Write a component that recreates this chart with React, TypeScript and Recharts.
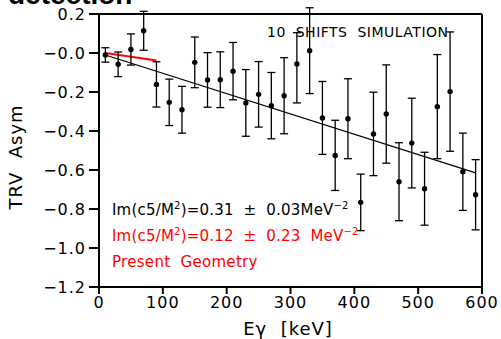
import { ComposedChart, Scatter, ErrorBar, XAxis, YAxis, ReferenceLine } from 'recharts';

const energy = [10, 30, 50, 70, 90, 110, 130, 150, 170, 190, 210, 230, 250, 270, 290, 310, 330, 350, 370, 390, 410, 430, 450, 470, 490, 510, 530, 550, 570, 590];
const asym = [-0.01, -0.058, 0.018, 0.114, -0.161, -0.253, -0.291, -0.048, -0.138, -0.137, -0.093, -0.256, -0.212, -0.27, -0.219, -0.056, 0.012, -0.333, -0.525, -0.337, -0.766, -0.415, -0.313, -0.66, -0.462, -0.696, -0.275, -0.198, -0.609, -0.727];
const asymErr: (number | [number, number])[] = [0.037, 0.063, 0.08, 0.1, 0.116, 0.119, 0.12, 0.13, 0.14, 0.143, 0.147, 0.171, 0.168, 0.17, 0.195, [0.2, 0.16], 0.22, 0.187, 0.18, 0.205, 0.145, 0.214, 0.252, 0.2, 0.23, 0.187, 0.267, 0.306, 0.198, 0.18];

// fitted line (10 shifts) and present geometry fit, as end points
const fitLine = [{ e: 10, v: -0.01 }, { e: 590, v: -0.615 }];
const presentLine = [{ e: 10, v: 0.0 }, { e: 90, v: -0.038 }];

const xTicks = [0, 100, 200, 300, 400, 500, 600];
const yTicks = [-1.2, -1.0, -0.8, -0.6, -0.4, -0.2, 0, 0.2];
const yTickLabels = ['\u22121.2', '\u22121.0', '\u22120.8', '\u22120.6', '\u22120.4', '\u22120.2', '\u22120.0', '0.2'];

const data = energy.map((e, i) => ({ e, v: asym[i], err: asymErr[i] }));

const FONT = '"DejaVu Sans", sans-serif';
const tickStyle = { fontFamily: FONT, fontSize: 16, fill: '#000', letterSpacing: 1 };

export default function App() {
  return (
    <div style={{ position: 'absolute', left: 0, top: 0, width: 501, height: 339, background: '#fff' }}>
      <ComposedChart width={501} height={339} data={data} margin={{ top: 0, right: 0, bottom: 0, left: 0 }}>
        <XAxis xAxisId="b" type="number" dataKey="e" domain={[0, 600]} ticks={xTicks} height={52}
          stroke="#000" strokeWidth={2} tickSize={7} tickMargin={3} tick={tickStyle} interval={0} />
        <XAxis xAxisId="t" type="number" dataKey="e" orientation="top" domain={[0, 600]} ticks={xTicks} height={14}
          stroke="#000" strokeWidth={2} tickSize={8} tick={false} />
        <YAxis yAxisId="l" type="number" domain={[-1.2, 0.2]} ticks={yTicks} width={99} allowDataOverflow
          stroke="#000" strokeWidth={2} tickSize={10} tickMargin={3} tick={tickStyle} interval={0}
          tickFormatter={(v: number) => yTickLabels[yTicks.findIndex(t => Math.abs(t - v) < 1e-6)]} />
        <YAxis yAxisId="r" type="number" orientation="right" domain={[-1.2, 0.2]} ticks={yTicks} width={19}
          stroke="#000" strokeWidth={2} tickSize={8} tick={false} />
        <ReferenceLine xAxisId="b" yAxisId="l" segment={fitLine.map(p => ({ x: p.e, y: p.v }))} stroke="#000" strokeWidth={1.2} />
        <ReferenceLine xAxisId="b" yAxisId="l" segment={presentLine.map(p => ({ x: p.e, y: p.v }))} stroke="#ff0000" strokeWidth={2} />
        <Scatter xAxisId="b" yAxisId="l" dataKey="v" fill="#000" isAnimationActive={false}
          shape={(p: any) => <circle cx={p.cx} cy={p.cy} r={2.7} fill="#000" />}>
          <ErrorBar dataKey="err" direction="y" width={4} stroke="#000" strokeWidth={1.3} />
        </Scatter>
      </ComposedChart>
      <svg width={501} height={339} style={{ position: 'absolute', left: 0, top: 0, pointerEvents: 'none' }}>
        <text x={8} y={4} fontFamily='"Liberation Sans", sans-serif' fontWeight="bold" fontSize={28} fill="#000">detection</text>
        <text x={267} y={37} fontFamily={FONT} fontSize={14} fill="#000" style={{ whiteSpace: 'pre' }} letterSpacing={0.5}>10  SHIFTS  SIMULATION</text>
        <text x={112} y={215} fontFamily={FONT} fontSize={15} fill="#000" letterSpacing={0.2} style={{ whiteSpace: 'pre' }}>
          Im(c5/M<tspan dy={-6} fontSize={10}>2</tspan><tspan dy={6}>)=0.31  ±  0.03MeV</tspan><tspan dy={-6} fontSize={10}>−2</tspan>
        </text>
        <text x={112} y={241} fontFamily={FONT} fontSize={15} fill="#ff0000" letterSpacing={0.2} style={{ whiteSpace: 'pre' }}>
          Im(c5/M<tspan dy={-6} fontSize={10}>2</tspan><tspan dy={6}>)=0.12  ±  0.23  MeV</tspan><tspan dy={-6} fontSize={10}>−2</tspan>
        </text>
        <text x={112} y={267} fontFamily={FONT} fontSize={15} fill="#ff0000" letterSpacing={0.3} style={{ whiteSpace: 'pre' }}>Present  Geometry</text>
        <text x={288} y={335} textAnchor="middle" fontFamily={FONT} fontSize={18} fill="#000" letterSpacing={1} style={{ whiteSpace: 'pre' }}>Eγ  [keV]</text>
        <text x={0} y={0} transform="translate(22,157) rotate(-90)" textAnchor="middle" fontFamily={FONT} fontSize={18} fill="#000" letterSpacing={1} style={{ whiteSpace: 'pre' }}>TRV  Asym</text>
      </svg>
    </div>
  );
}
